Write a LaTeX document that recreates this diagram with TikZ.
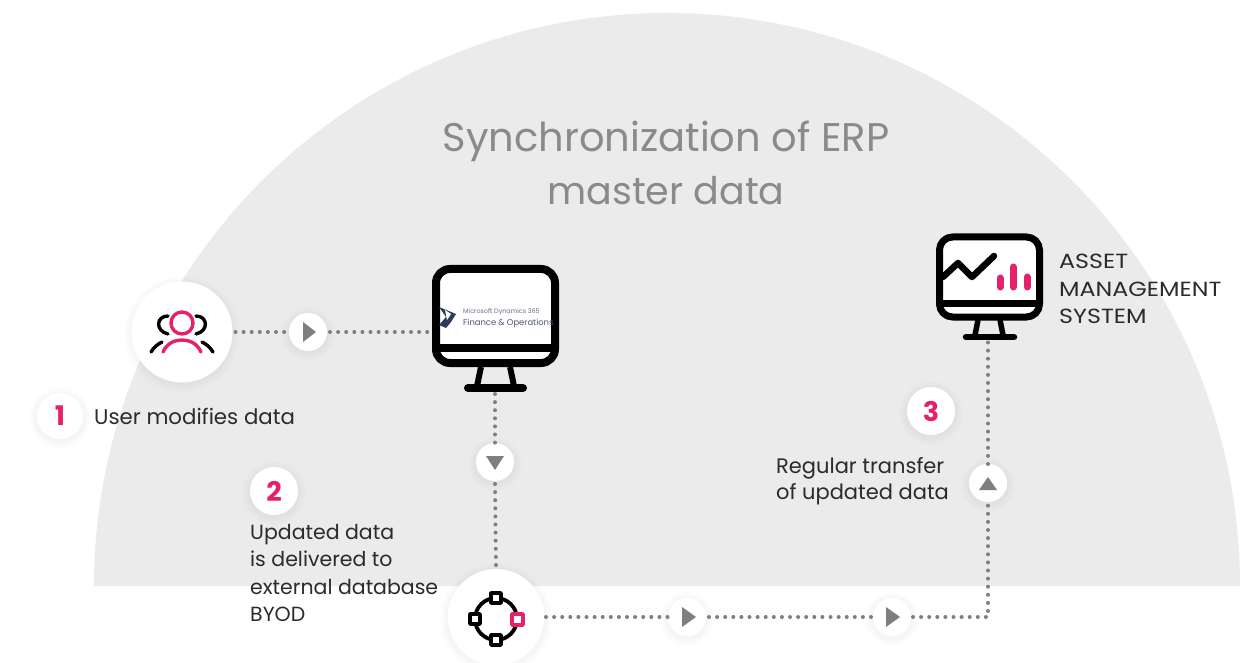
\documentclass[tikz,border=0pt]{standalone}
\usepackage{fontspec}
\setmainfont{Poppins}
\newfontfamily\widefont[FakeStretch=1.16]{Poppins}
\definecolor{pinkc}{HTML}{E6216B}
\definecolor{bgc}{HTML}{EBEBEB}
\definecolor{dotc}{HTML}{7F7F7F}
\definecolor{titlec}{HTML}{8A8A8A}
\definecolor{textc}{HTML}{2B2B2B}
\definecolor{logoc}{HTML}{2F3A5C}
\tikzset{
  dotline/.style={draw=dotc,line width=4pt,line cap=round,dash pattern=on 0pt off 8.1pt},
  disc/.style={circle,fill=white,inner sep=0pt,outer sep=0pt},
  icon/.style={draw=black,line width=8pt,line cap=round,line join=round},
  thinicon/.style={draw=black,line width=3.4pt,line cap=round,line join=round},
  pinkicon/.style={draw=pinkc,line width=3.4pt,line cap=round,line join=round},
  label/.style={text=textc,font=\fontsize{20.5}{27.5}\selectfont,align=left,inner sep=0pt},
  badge/.style={disc,font=\fontsize{27}{27}\selectfont\bfseries,text=pinkc},
}
\newcommand{\softglow}[3]{%
  \foreach \k in {1,...,5}{\fill[black,opacity=0.009] (#1,#2+2) circle ({#3+\k*1.6});}}
\begin{document}
\begin{tikzpicture}[x=1pt,y=-1pt]
\useasboundingbox (0,0) rectangle (1240,663);
% backdrop
\fill[bgc] (94,586) arc[start angle=180,end angle=0,x radius=573,y radius=-573] -- cycle;
% title
\node[text=titlec,align=center,inner sep=0pt] (title) at (666,163) {\fontsize{40}{56}\selectfont Synchronization of ERP\\[14pt]\fontsize{38}{56}\selectfont master data};
% glows
\softglow{182}{332}{50}\softglow{308}{332}{19}\softglow{495}{462}{19}\softglow{496}{617}{48}
\softglow{687}{617}{19}\softglow{892}{617}{19}\softglow{988}{483}{19}
\softglow{60}{416}{23}\softglow{274}{491}{24}\softglow{931}{411}{24}
% anchors and discs
\node[disc,minimum size=101pt] (users) at (182,332) {};
\node[disc,minimum size=38pt] (p1) at (308,332) {};
\node[disc,minimum size=38pt] (p2) at (495,462) {};
\node[disc,minimum size=96pt] (net) at (496,617) {};
\node[disc,minimum size=38pt] (p3) at (687,617) {};
\node[disc,minimum size=38pt] (p4) at (892,617) {};
\node[disc,minimum size=38pt] (p5) at (988,483) {};
\coordinate (m1w) at (430,332);
\coordinate (m1s) at (495,394);
\coordinate (m2s) at (988,342);
\coordinate (corner) at (988,617);
% connectors
\draw[dotline] (users.east) ++(3,0) -- (p1.west);
\draw[dotline] (p1.east) ++(3,0) -- (m1w);
\draw[dotline] (m1s) -- (p2.north);
\draw[dotline] (p2.south) ++(0,3) -- (net.north);
\draw[dotline] (net.east) ++(2,0) -- (p3.west);
\draw[dotline] (p3.east) ++(3,0) -- (p4.west);
\draw[dotline] (p4.east) ++(2,0) -- (corner) -- (p5.south);
\draw[dotline] (p5.north) -- (m2s);
% arrow glyphs on discs
\fill[dotc] (303,322) -- (316,332) -- (303,342) -- cycle;
\fill[dotc] (486,456) -- (504,456) -- (495,470) -- cycle;
\fill[dotc] (682,607) -- (696,617) -- (682,627) -- cycle;
\fill[dotc] (886,607) -- (900,617) -- (886,627) -- cycle;
\fill[dotc] (979,490) -- (997,490) -- (988,477) -- cycle;
% users icon
\draw[pinkicon] (182,323) circle (11);
\draw[pinkicon] (163,352) .. controls (167,343) and (175,340) .. (182,340) .. controls (189,340) and (197,343) .. (201,352);
\draw[thinicon] (168,316) .. controls (156,316) and (155,331) .. (168,334);
\draw[thinicon] (196,316) .. controls (208,316) and (209,331) .. (196,334);
\draw[thinicon] (151,352) .. controls (154,347) and (158,344) .. (162,342);
\draw[thinicon] (213,352) .. controls (210,347) and (206,344) .. (202,342);
% monitor 1
\draw[icon,fill=white,rounded corners=14pt] (436,269) rectangle (555,363);
\draw[icon,line cap=butt] (436,348) -- (555,348);
\draw[icon,line width=6pt,line cap=butt] (481,367) -- (477,386);
\draw[icon,line width=6pt,line cap=butt] (510,367) -- (514,386);
\draw[icon] (468,388) -- (523,388);
% dynamics logo
\fill[logoc] (439,307) -- (456,314) -- (451,322) -- (446,328) -- (439,325) -- (446,317) -- cycle;
\fill[white] (445,310) -- (451,314) -- (447,320) -- cycle;
\node[inner sep=0pt,anchor=west,text=logoc!75,font=\fontsize{6.4}{9}\selectfont] (ms) at (463,312) {Microsoft Dynamics 365};
\node[inner sep=0pt,anchor=west,text=logoc!85,font=\fontsize{8.4}{10}\selectfont] (fo) at (463,323) {Finance \& Operations};
% monitor 2
\draw[icon,line width=7pt,fill=white,rounded corners=13pt] (939.5,237) rectangle (1039.5,317);
\draw[icon,line width=7pt,line cap=butt] (940,303.5) -- (1039,303.5);
\draw[icon,line width=5.5pt,line cap=butt] (978,320) -- (975,335);
\draw[icon,line width=5.5pt,line cap=butt] (1000,320) -- (1003,335);
\draw[icon,line width=6.5pt] (966,337) -- (1014,337);
\draw[icon,line width=6.5pt] (943,277) -- (958,263) -- (972,277) -- (994,256);
\draw[pinkc,line width=7pt,line cap=round] (1000,278) -- (1000,287);
\draw[pinkc,line width=7pt,line cap=round] (1013,267) -- (1013,287);
\draw[pinkc,line width=7pt,line cap=round] (1027,277) -- (1027,287);
% network icon
\draw[thinicon,line width=3.8pt] (496,619) circle (21);
\draw[thinicon,line width=3.8pt,fill=white] (491,593) rectangle (501,603);
\draw[thinicon,line width=3.8pt,fill=white] (470,614) rectangle (480,624);
\draw[thinicon,line width=3.8pt,fill=white] (491,635) rectangle (501,645);
\draw[pinkicon,line width=3.8pt,fill=white] (512,614) rectangle (523,625);
% badges and labels
\node[badge,minimum size=46pt] (b1) at (60,416) {1};
\node[badge,minimum size=48pt] (b2) at (274,491) {2};
\node[badge,minimum size=48pt] (b3) at (931,411) {3};
\node[label,anchor=west,font=\fontsize{21.3}{27.5}\selectfont] (t1) at (94,416) {User modifies data};
\node[label,anchor=north west] (t2) at (250,524) {Updated data\\is delivered to\\external database\\BYOD};
\node[label,anchor=north west,font=\fontsize{21}{26.5}\selectfont] (t3) at (776,457) {Regular transfer\\of updated data};
\node[label,anchor=north west,font=\widefont\fontsize{20.5}{27.5}\selectfont] (t4) at (1059,254) {ASSET\\MANAGEMENT\\SYSTEM};
\end{tikzpicture}
\end{document}
